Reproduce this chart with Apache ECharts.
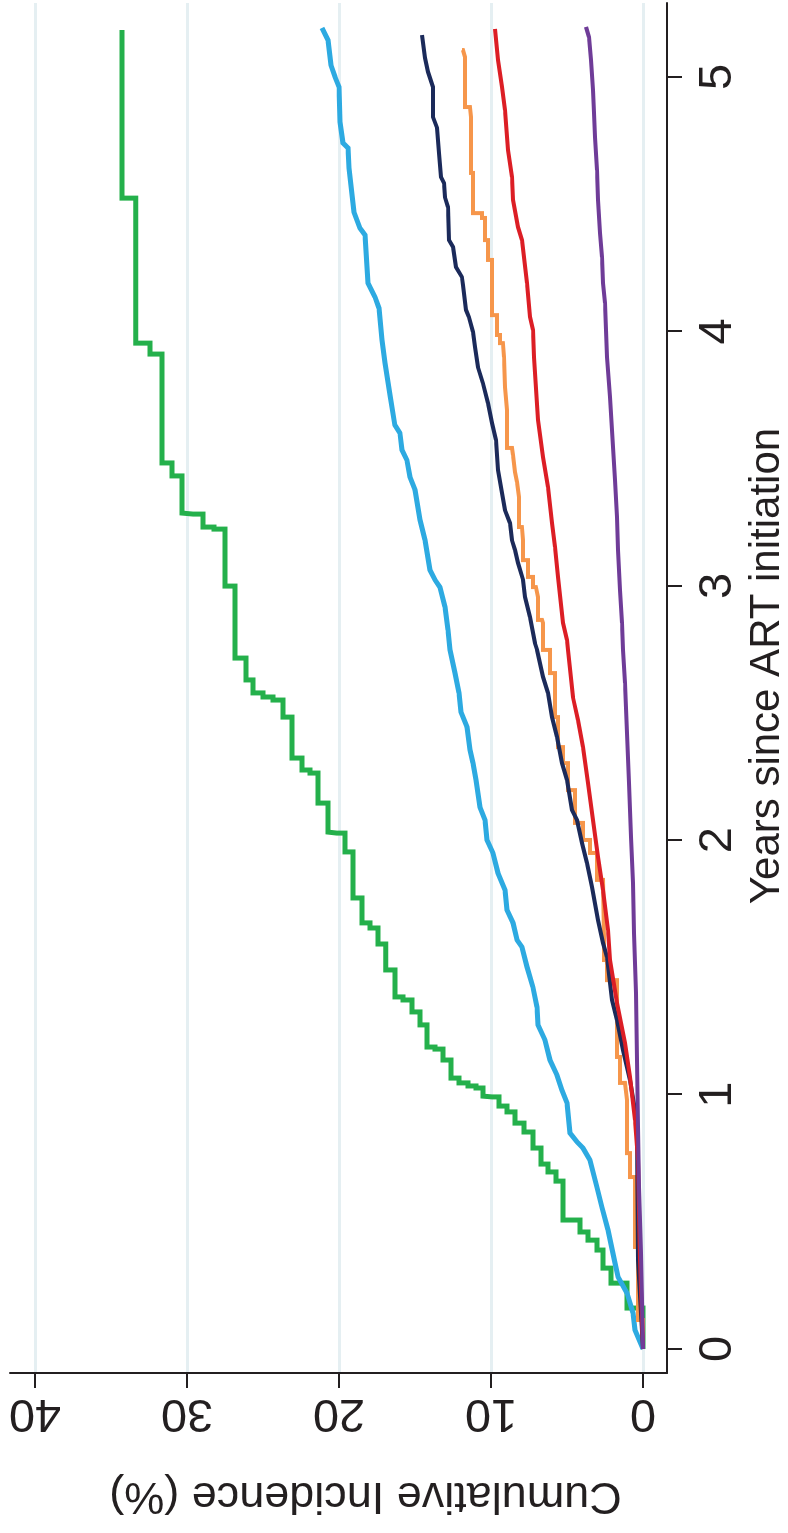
<!DOCTYPE html>
<html>
<head>
<meta charset="utf-8">
<script src="https://cdn.jsdelivr.net/npm/echarts@6/dist/echarts.min.js"></script>
<style>
  html, body { margin: 0; padding: 0; background: #fff; overflow: hidden; }
  /* the figure is printed turned on its side, so draw it upright and turn the box */
  #chart {
    position: absolute; left: 0; top: 0;
    width: 1533px; height: 788px;
    transform-origin: 0 0;
    transform: translate(0, 1533px) rotate(-90deg);
  }
</style>
</head>
<body>
<div id="chart"></div>
<script>
// years since ART initiation / cumulative incidence (%)
var yearTicks = [0, 1, 2, 3, 4, 5];
var pctTicks = [0, 10, 20, 30, 40];

var greenYears = [0, 0.161, 0.259, 0.318, 0.389, 0.428, 0.46, 0.507, 0.66, 0.696, 0.727, 0.79, 0.853, 0.888, 0.932, 0.955, 0.991, 0.994, 1.026, 1.034, 1.046, 1.065, 1.136, 1.179, 1.187, 1.274, 1.325, 1.372, 1.384, 1.49, 1.592, 1.655, 1.675, 1.773, 1.954, 2.028, 2.032, 2.146, 2.264, 2.276, 2.323, 2.484, 2.551, 2.563, 2.579, 2.63, 2.716, 2.999, 3.223, 3.231, 3.282, 3.286, 3.432, 3.483, 3.911, 3.954, 4.524, 5.185];
var greenPct = [0, 1.05, 2.11, 2.63, 3.03, 3.62, 4.14, 5.26, 5.72, 6.25, 6.71, 7.24, 7.83, 8.42, 8.95, 9.47, 9.93, 10.53, 10.99, 11.51, 12.11, 12.63, 13.16, 13.68, 14.21, 14.67, 15.2, 15.79, 16.32, 16.93, 17.43, 17.96, 18.49, 19.08, 19.6, 20.13, 20.72, 21.38, 21.91, 22.43, 23.09, 23.68, 24.34, 25.0, 25.66, 26.12, 26.84, 27.5, 28.22, 28.95, 29.6, 30.33, 30.99, 31.64, 32.43, 33.36, 34.28, 34.28];

var blueYears = [0, 0.075, 0.142, 0.22, 0.283, 0.338, 0.468, 0.558, 0.637, 0.743, 0.79, 0.814, 0.849, 0.967, 1.018, 1.077, 1.136, 1.215, 1.274, 1.344, 1.423, 1.502, 1.58, 1.608, 1.675, 1.726, 1.804, 1.871, 1.95, 2.001, 2.079, 2.13, 2.237, 2.303, 2.355, 2.445, 2.504, 2.579, 2.657, 2.748, 2.826, 2.917, 2.995, 3.023, 3.062, 3.18, 3.259, 3.377, 3.428, 3.494, 3.534, 3.601, 3.632, 3.75, 3.876, 3.966, 4.092, 4.135, 4.19, 4.379, 4.406, 4.469, 4.642, 4.721, 4.741, 4.823, 4.961, 5.0, 5.047, 5.145, 5.193];
var bluePct = [0, 0.53, 0.66, 1.05, 1.64, 1.84, 2.3, 2.7, 3.03, 3.49, 3.95, 4.34, 4.8, 5.0, 5.33, 5.66, 6.12, 6.45, 6.91, 6.97, 7.24, 7.63, 7.96, 8.29, 8.55, 8.95, 9.08, 9.54, 9.87, 10.26, 10.39, 10.72, 10.99, 11.18, 11.38, 11.58, 11.97, 12.11, 12.37, 12.7, 12.83, 13.03, 13.36, 13.68, 14.01, 14.34, 14.67, 15.0, 15.33, 15.53, 15.86, 15.99, 16.32, 16.64, 16.97, 17.17, 17.37, 17.63, 18.09, 18.29, 18.62, 19.01, 19.34, 19.41, 19.74, 19.93, 20.0, 20.26, 20.53, 20.72, 21.12];

var orangeYears = [0, 0.114, 0.401, 0.676, 0.77, 0.979, 1.046, 1.148, 1.45, 1.529, 1.608, 1.844, 1.95, 2.001, 2.068, 2.197, 2.303, 2.366, 2.484, 2.657, 2.748, 2.854, 2.866, 2.956, 2.995, 3.035, 3.101, 3.18, 3.231, 3.349, 3.408, 3.447, 3.514, 3.542, 3.691, 3.781, 3.899, 3.954, 3.986, 4.064, 4.281, 4.359, 4.446, 4.465, 4.623, 4.843, 4.882, 5.079, 5.106];
var orangePct = [0, 0.33, 0.53, 0.86, 1.05, 1.18, 1.51, 1.71, 2.37, 2.57, 2.63, 3.03, 3.49, 3.95, 4.47, 4.93, 5.26, 5.59, 5.79, 6.12, 6.58, 6.64, 6.91, 7.04, 7.24, 7.57, 7.89, 7.96, 8.16, 8.29, 8.42, 8.55, 8.62, 8.95, 9.08, 9.14, 9.21, 9.41, 9.6, 9.93, 10.2, 10.39, 10.59, 11.18, 11.32, 11.38, 11.71, 11.84, 11.91];

var navyYears = [0, 0.35, 0.849, 0.939, 1.057, 1.175, 1.293, 1.372, 1.541, 1.596, 1.686, 1.816, 1.91, 1.989, 2.079, 2.119, 2.237, 2.303, 2.406, 2.484, 2.579, 2.642, 2.748, 2.775, 2.877, 2.956, 3.023, 3.09, 3.141, 3.18, 3.247, 3.298, 3.365, 3.455, 3.573, 3.64, 3.718, 3.797, 3.86, 3.939, 3.998, 4.057, 4.084, 4.182, 4.214, 4.253, 4.332, 4.359, 4.489, 4.528, 4.583, 4.607, 4.701, 4.8, 4.843, 4.961, 5.02, 5.075, 5.165];
var navyPct = [0, 0.33, 0.39, 0.53, 0.86, 1.32, 1.71, 2.04, 2.37, 2.63, 2.96, 3.36, 3.68, 4.01, 4.34, 4.67, 5.0, 5.33, 5.66, 5.99, 6.25, 6.58, 6.97, 7.11, 7.43, 7.76, 7.89, 8.22, 8.42, 8.62, 8.75, 9.08, 9.28, 9.54, 9.67, 9.93, 10.2, 10.53, 10.86, 11.05, 11.18, 11.45, 11.64, 11.84, 11.91, 12.3, 12.5, 12.76, 12.83, 13.03, 13.09, 13.29, 13.42, 13.55, 13.82, 13.82, 14.14, 14.34, 14.54];

var redYears = [0, 0.35, 0.743, 0.9, 1.069, 1.203, 1.36, 1.529, 1.647, 1.804, 1.934, 2.079, 2.225, 2.366, 2.472, 2.563, 2.748, 2.787, 2.854, 3.035, 3.153, 3.247, 3.388, 3.506, 3.652, 3.899, 4.006, 4.057, 4.19, 4.359, 4.41, 4.517, 4.607, 4.713, 4.87, 4.961, 5.067, 5.189];
var redPct = [0, 0.2, 0.33, 0.53, 0.86, 1.18, 1.71, 2.17, 2.3, 2.63, 2.96, 3.29, 3.62, 3.95, 4.28, 4.61, 4.93, 5.0, 5.26, 5.59, 5.79, 5.99, 6.25, 6.58, 6.91, 7.17, 7.24, 7.43, 7.63, 7.96, 8.22, 8.55, 8.62, 8.88, 9.08, 9.28, 9.54, 9.74];

var purpleYears = [0, 0.377, 0.637, 0.873, 1.136, 1.399, 1.635, 1.832, 2.013, 2.225, 2.421, 2.618, 2.748, 2.854, 2.983, 3.141, 3.27, 3.416, 3.546, 3.742, 3.899, 4.112, 4.19, 4.292, 4.387, 4.517, 4.634, 4.764, 4.859, 4.949, 5.067, 5.157, 5.197];
var purplePct = [0, 0.13, 0.26, 0.33, 0.39, 0.46, 0.59, 0.66, 0.79, 0.92, 1.05, 1.18, 1.32, 1.38, 1.51, 1.64, 1.71, 1.84, 1.97, 2.17, 2.37, 2.5, 2.63, 2.7, 2.83, 2.96, 3.03, 3.16, 3.22, 3.29, 3.42, 3.55, 3.75];

function pairs(xs, ys) {
  return xs.map(function (x, i) { return [x, ys[i]]; });
}

function curve(xs, ys, color, width, step) {
  return {
    type: 'line',
    data: pairs(xs, ys),
    step: step || false,
    showSymbol: false,
    symbol: 'none',
    silent: true,
    lineStyle: { color: color, width: width, cap: 'butt', join: 'miter' }
  };
}

var font = '"Liberation Sans", Arial, Helvetica, sans-serif';
var myChart = echarts.init(document.getElementById('chart'), null, { renderer: 'canvas' });
var option = {
  animation: false,
  backgroundColor: '#fff',
  grid: { left: 160, right: 3, top: 10, bottom: 121, containLabel: false, outerBoundsMode: 'none' },
  xAxis: {
    type: 'value',
    min: -0.0943,
    max: 5.291,
    name: 'Years since ART initiation',
    nameLocation: 'middle',
    nameGap: 77,
    nameTextStyle: { fontFamily: font, fontSize: 42, color: '#231f20', padding: [0, 0, 0, 44] },
    axisLine: { show: true, onZero: false, lineStyle: { color: '#231f20', width: 2 } },
    axisTick: { show: true, customValues: yearTicks, length: 15, lineStyle: { color: '#231f20', width: 2 } },
    axisLabel: { customValues: yearTicks, margin: 28, fontFamily: font, fontSize: 47, color: '#231f20' },
    splitLine: { show: false }
  },
  yAxis: {
    type: 'value',
    min: -1.579,
    max: 41.64,
    name: 'Cumulative Incidence (%)',
    nameLocation: 'middle',
    nameRotate: 90,
    nameGap: 100,
    nameTextStyle: { fontFamily: font, fontSize: 45, color: '#231f20', padding: [0, 54, 0, 0] },
    axisLine: { show: true, onZero: false, lineStyle: { color: '#231f20', width: 2 } },
    axisTick: { show: true, customValues: pctTicks, length: 15, lineStyle: { color: '#231f20', width: 2 } },
    axisLabel: { customValues: pctTicks, rotate: 90, margin: 16, fontFamily: font, fontSize: 47, color: '#231f20' },
    splitLine: { show: true, lineStyle: { color: '#e5eff2', width: 3 } }
  },
  series: [
    curve(greenYears, greenPct, '#24b04b', 5, 'end'),
    curve(blueYears, bluePct, '#2daae1', 5),
    curve(orangeYears, orangePct, '#f6964b', 4, 'end'),
    curve(navyYears, navyPct, '#1b2a5a', 4),
    curve(redYears, redPct, '#dc1e25', 4),
    curve(purpleYears, purplePct, '#6f3c98', 4)
  ]
};
myChart.setOption(option);
</script>
</body>
</html>
